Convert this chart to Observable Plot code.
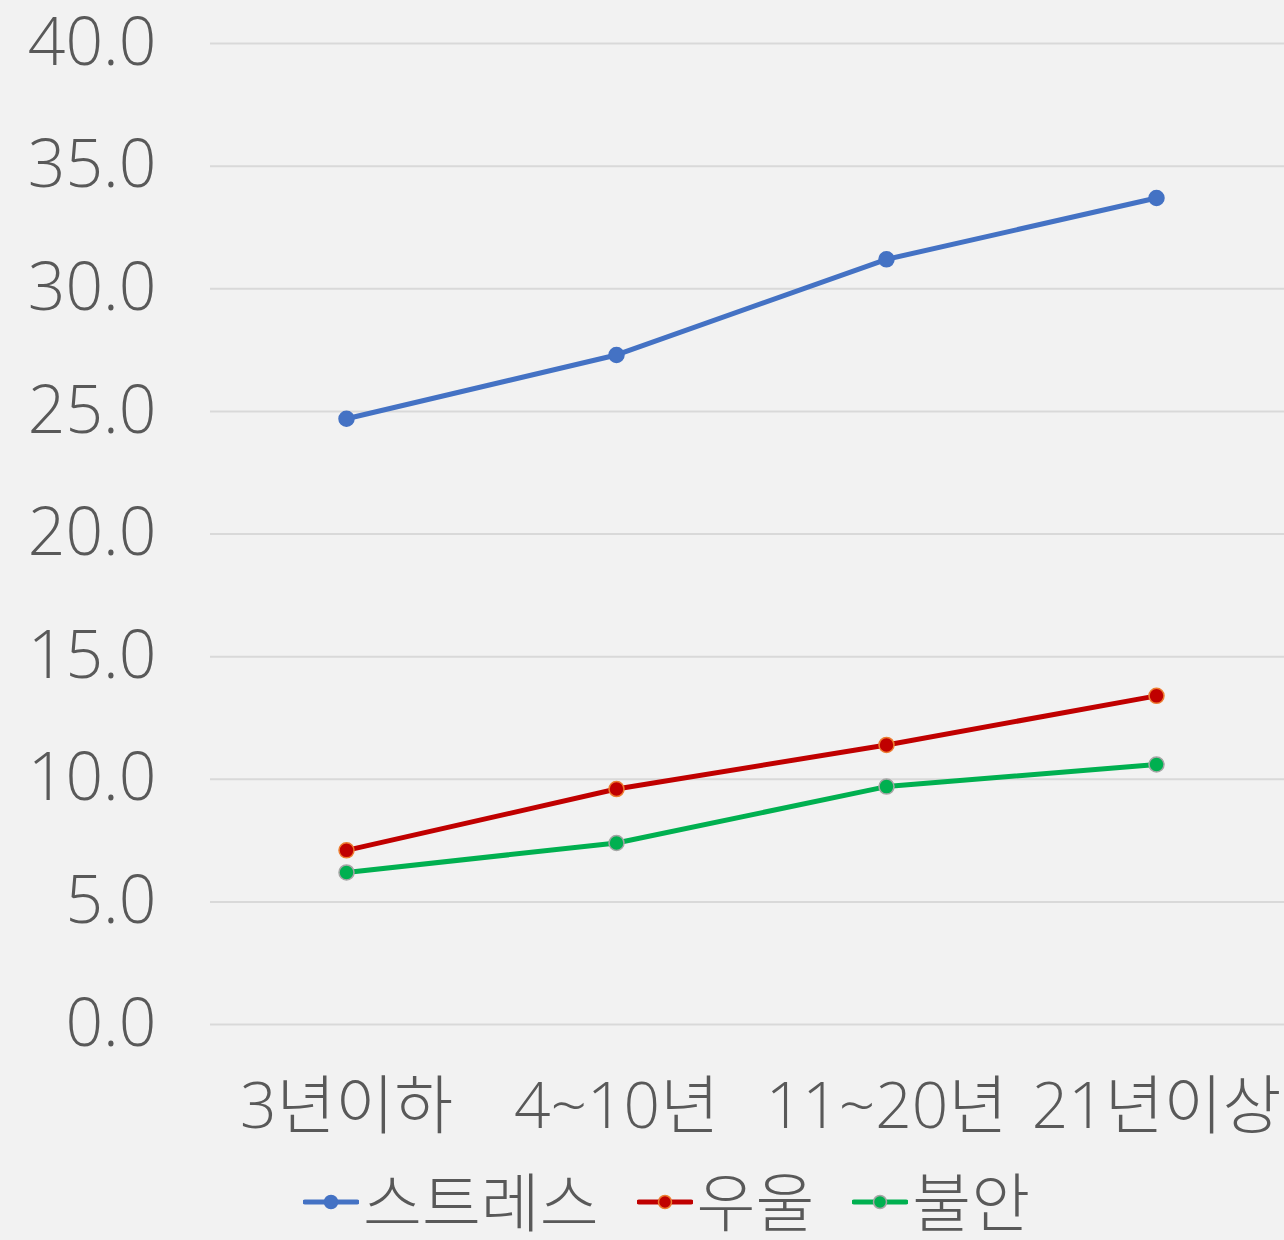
<!DOCTYPE html>
<html><head><meta charset="utf-8">
<script src="https://cdn.jsdelivr.net/npm/d3@7"></script>
<script src="https://cdn.jsdelivr.net/npm/@observablehq/plot@0.6"></script>
<style>
html,body{margin:0;padding:0;background:#f2f2f2;}
#wrap{position:relative;width:1284px;height:1240px;overflow:hidden;background:#f2f2f2;}
#legend{position:absolute;left:303px;top:1170px;display:flex;align-items:center;font-family:"Open Sans","Noto Sans CJK KR",sans-serif;font-weight:300;font-size:64px;color:#595959;line-height:1;white-space:nowrap;}
#legend .item{display:flex;align-items:center;margin-right:38px;}
#legend svg{display:block;margin-right:4px;}
</style></head><body>
<div id="wrap"><div id="chart"></div><div id="legend"></div></div>
<script>
const categories = ["3년이하", "4~10년", "11~20년", "21년이상"];
const seriesNames = ["스트레스", "우울", "불안"];
const stressValues = [24.7, 27.3, 31.2, 33.7];
const depressionValues = [7.1, 9.6, 11.4, 13.4];
const anxietyValues = [6.2, 7.4, 9.7, 10.6];
const yTicks = [0, 5, 10, 15, 20, 25, 30, 35, 40];
const lineColors = ["#4472C4", "#C00000", "#00B050"];
const markerStrokes = ["#4472C4", "#ED7D31", "#A5A5A5"];

const seriesValues = [stressValues, depressionValues, anxietyValues];
const data = [];
seriesNames.forEach((s, i) => categories.forEach((c, j) => data.push({series: s, category: c, value: seriesValues[i][j]})));

const font = '"Open Sans","Noto Sans CJK KR",sans-serif';
const marks = [
  Plot.ruleY(yTicks, {stroke: "#d9d9d9", strokeWidth: 2}),
  Plot.axisY(yTicks, {tickSize: 0, tickPadding: 54, tickFormat: d => d.toFixed(1), fontSize: 66, fill: "#595959", fontWeight: 300, label: null}),
  Plot.axisX(categories, {tickSize: 0, tickPadding: 58, fontSize: 64, fill: "#595959", fontWeight: 300, label: null})
];
seriesNames.forEach((s, i) => {
  const d = data.filter(r => r.series === s);
  marks.push(Plot.line(d, {x: "category", y: "value", stroke: lineColors[i], strokeWidth: 5}));
  marks.push(Plot.dot(d, {x: "category", y: "value", r: 7.5, fill: lineColors[i], stroke: markerStrokes[i], strokeWidth: 1.5}));
});

const chart = Plot.plot({
  width: 1284, height: 1160,
  marginTop: 43, marginBottom: 136, marginLeft: 210, marginRight: 0,
  style: {background: "transparent", fontFamily: font, overflow: "visible"},
  x: {type: "point", domain: categories, range: [345, 1156], padding: 0, axis: null},
  y: {domain: [0, 40], axis: null},
  marks
});
document.getElementById("chart").appendChild(chart);

const legend = document.getElementById("legend");
seriesNames.forEach((s, i) => {
  const item = document.createElement("div");
  item.className = "item";
  item.innerHTML = `<svg width="56" height="20"><line x1="2" y1="10" x2="54" y2="10" stroke="${lineColors[i]}" stroke-width="5" stroke-linecap="round"/><circle cx="28" cy="10" r="6.5" fill="${lineColors[i]}" stroke="${markerStrokes[i]}" stroke-width="1.5"/></svg><span>${s}</span>`;
  legend.appendChild(item);
});
</script>
</body></html>
